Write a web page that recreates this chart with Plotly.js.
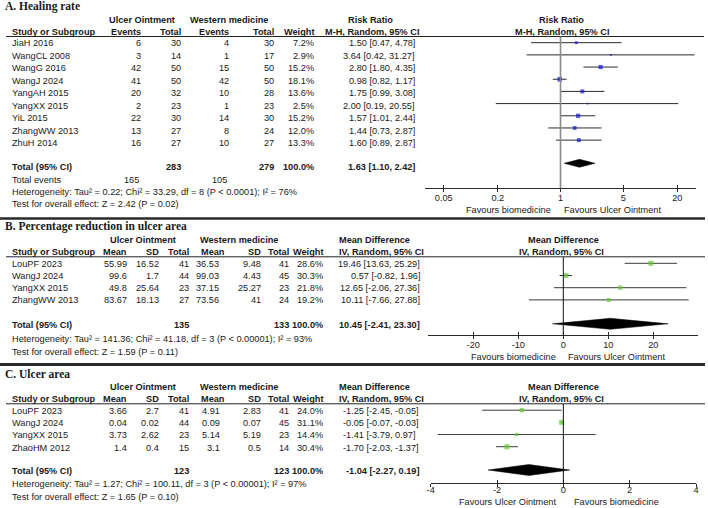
<!DOCTYPE html>
<html>
<head>
<meta charset="utf-8">
<script src="https://cdn.plot.ly/plotly-3.0.1.min.js"></script>
<style>
  html, body { margin: 0; padding: 0; background: #fff; }
  #chart { width: 708px; height: 508px; }
</style>
</head>
<body>
<div id="chart"></div>
<script>
// ---------- A. Healing rate (risk ratio) ----------
const studiesA  = ["JiaH 2016", "WangCL 2008", "WangG 2016", "WangJ 2024", "YangAH 2015",
                   "YangXX 2015", "YiL 2015", "ZhangWW 2013", "ZhuH 2014"];
const eventsUOA = [6, 3, 42, 41, 20, 2, 22, 13, 16];
const totalUOA  = [30, 14, 50, 50, 32, 23, 30, 27, 27];
const eventsWMA = [4, 1, 15, 42, 10, 1, 14, 8, 10];
const totalWMA  = [30, 17, 50, 50, 28, 23, 30, 24, 27];
const weightA   = [7.2, 2.9, 15.2, 18.1, 13.6, 2.5, 15.2, 12.0, 13.3];
const rrA       = [1.50, 3.64, 2.80, 0.98, 1.75, 2.00, 1.57, 1.44, 1.60];
const rrLoA     = [0.47, 0.42, 1.80, 0.82, 0.99, 0.19, 1.01, 0.73, 0.89];
const rrHiA     = [4.78, 31.27, 4.35, 1.17, 3.08, 20.55, 2.44, 2.87, 2.87];
const pooledA   = [1.63, 1.10, 2.42];          // estimate, lower, upper
const sumTotalsA = [283, 279];
const sumEventsA = [165, 105];
const hetA  = "Heterogeneity: Tau² = 0.22; Chi² = 33.29, df = 8 (P &lt; 0.0001); I² = 76%";
const testA = "Test for overall effect: Z = 2.42 (P = 0.02)";
const ticksA = [0.05, 0.2, 1, 5, 20];

// ---------- B. Percentage reduction in ulcer area (mean difference) ----------
const studiesB = ["LouPF 2023", "WangJ 2024", "YangXX 2015", "ZhangWW 2013"];
const meanUOB  = [55.99, 99.6, 49.8, 83.67];
const sdUOB    = [16.52, 1.7, 25.64, 18.13];
const nUOB     = [41, 44, 23, 27];
const meanWMB  = [36.53, 99.03, 37.15, 73.56];
const sdWMB    = [9.48, 4.43, 25.27, 41];
const nWMB     = [41, 45, 23, 24];
const weightB  = [28.6, 30.3, 21.8, 19.2];
const mdB      = [19.46, 0.57, 12.65, 10.11];
const mdLoB    = [13.63, -0.82, -2.06, -7.66];
const mdHiB    = [25.29, 1.96, 27.36, 27.88];
const pooledB  = [10.45, -2.41, 23.30];
const sumTotalsB = [135, 133];
const hetB  = "Heterogeneity: Tau² = 141.36; Chi² = 41.18, df = 3 (P &lt; 0.00001); I² = 93%";
const testB = "Test for overall effect: Z = 1.59 (P = 0.11)";
const ticksB = [-20, -10, 0, 10, 20];

// ---------- C. Ulcer area (mean difference) ----------
const studiesC = ["LouPF 2023", "WangJ 2024", "YangXX 2015", "ZhaoHM 2012"];
const meanUOC  = [3.66, 0.04, 3.73, 1.4];
const sdUOC    = [2.7, 0.02, 2.62, 0.4];
const nUOC     = [41, 44, 23, 15];
const meanWMC  = [4.91, 0.09, 5.14, 3.1];
const sdWMC    = [2.83, 0.07, 5.19, 0.5];
const nWMC     = [41, 45, 23, 14];
const weightC  = [24.0, 31.1, 14.4, 30.4];
const mdC      = [-1.25, -0.05, -1.41, -1.70];
const mdLoC    = [-2.45, -0.07, -3.79, -2.03];
const mdHiC    = [-0.05, -0.03, 0.97, -1.37];
const pooledC  = [-1.04, -2.27, 0.19];
const sumTotalsC = [123, 123];
const hetC  = "Heterogeneity: Tau² = 1.27; Chi² = 100.11, df = 3 (P &lt; 0.00001); I² = 97%";
const testC = "Test for overall effect: Z = 1.65 (P = 0.10)";
const ticksC = [-4, -2, 0, 2, 4];

// ---------- page geometry (pixels) ----------
const W = 708, H = 508;
const TXT = "#1a1a1a";
const SANS = "Liberation Sans, Arial, sans-serif";
const SERIF = "Liberation Serif, Times New Roman, serif";
const FS = 9.2;
const px = v => v / W;           // pixel x -> paper fraction
const py = v => 1 - v / H;       // pixel y -> paper fraction

const annotations = [];
const shapes = [];

function txt(text, x, y, anchor, opts) {
  opts = opts || {};
  annotations.push({
    text: opts.bold ? "<b>" + text + "</b>" : text,
    xref: "paper", x: px(x), xanchor: anchor || "left",
    yref: "y", y: y, yanchor: "middle",
    showarrow: false, borderpad: 0,
    font: { family: opts.family || SANS, size: opts.size || FS, color: opts.color || TXT }
  });
}
function hline(x0, x1, y, width, color) {
  shapes.push({ type: "line", xref: "paper", yref: "y", x0: px(x0), x1: px(x1), y0: y, y1: y,
                line: { color: color, width: width } });
}
const f2 = v => v.toFixed(2);
const ci = (e, lo, hi) => f2(e) + " [" + f2(lo) + ", " + f2(hi) + "]";
const pct = v => v.toFixed(1) + "%";

// ---------- panel A table ----------
txt("A. Healing rate", 4, 6.5, "left", { bold: true, family: SERIF, size: 11.5 });
txt("Ulcer Ointment", 142, 20, "center", { bold: true });
txt("Western medicine", 229, 20, "center", { bold: true });
txt("Risk Ratio", 370, 20, "center", { bold: true });
txt("Risk Ratio", 561, 20, "center", { bold: true });
txt("Study or Subgroup", 11, 32, "left", { bold: true });
txt("Events", 142, 32, "right", { bold: true });
txt("Total", 182, 32, "right", { bold: true });
txt("Events", 230, 32, "right", { bold: true });
txt("Total", 275, 32, "right", { bold: true });
txt("Weight", 315, 32, "right", { bold: true });
txt("M-H, Random, 95% CI", 372, 32, "center", { bold: true });
txt("M-H, Random, 95% CI", 562, 32, "center", { bold: true });
hline(6, 704, 36.5, 1, "#222");

const rowTA = i => 43.3 + 12.5 * i;
const rowMA = i => 42.7 + 12.18 * i;
studiesA.forEach((s, i) => {
  const y = rowTA(i);
  txt(s, 11, y, "left");
  txt(String(eventsUOA[i]), 142, y, "right");
  txt(String(totalUOA[i]), 182, y, "right");
  txt(String(eventsWMA[i]), 230, y, "right");
  txt(String(totalWMA[i]), 275, y, "right");
  txt(pct(weightA[i]), 315, y, "right");
  txt(ci(rrA[i], rrLoA[i], rrHiA[i]), 416, y, "right");
});
txt("Total (95% CI)", 11, 166.5, "left", { bold: true });
txt(String(sumTotalsA[0]), 182, 166.5, "right", { bold: true });
txt(String(sumTotalsA[1]), 275, 166.5, "right", { bold: true });
txt("100.0%", 315, 166.5, "right", { bold: true });
txt(ci(pooledA[0], pooledA[1], pooledA[2]), 416, 166.5, "right", { bold: true });
txt("Total events", 11, 179.5, "left");
txt(String(sumEventsA[0]), 140, 179.5, "right");
txt(String(sumEventsA[1]), 228, 179.5, "right");
txt(hetA, 11, 191.8, "left");
txt(testA, 11, 204, "left");
txt("Favours biomedicine", 552, 210, "right");
txt("Favours Ulcer Ointment", 563, 210, "left");

hline(0, 705, 218.5, 2.5, "#2a2a2a");

// ---------- panels B and C tables ----------
function mdTable(title, titleY, hdrY, studies, m1, s1, n1, m2, s2, n2, wt, est, lo, hi, pooled, totals,
                 rowT, totalY, het, hetY, testTxt, testY, ciAnchor, ciX, wmMeanX) {
  txt(title, 4, titleY, "left", { bold: true, family: SERIF, size: 11.5 });
  txt("Ulcer Ointment", 143, hdrY, "center", { bold: true });
  txt("Western medicine", 239, hdrY, "center", { bold: true });
  txt("Mean Difference", 338, hdrY, "left", { bold: true });
  txt("Mean Difference", 563, hdrY, "center", { bold: true });
  const h2 = hdrY + 12;
  txt("Study or Subgroup", 11, h2, "left", { bold: true });
  txt("Mean", 128, h2, "right", { bold: true });
  txt("SD", 160, h2, "right", { bold: true });
  txt("Total", 190, h2, "right", { bold: true });
  txt("Mean", 200, h2, "left", { bold: true });
  txt("SD", 262, h2, "right", { bold: true });
  txt("Total", 290, h2, "right", { bold: true });
  txt("Weight", 324, h2, "right", { bold: true });
  txt("IV, Random, 95% CI", 338, h2, "left", { bold: true });
  txt("IV, Random, 95% CI", 561, h2, "center", { bold: true });
  hline(6, 705, h2 + 4.8, 1, "#222");
  studies.forEach((s, i) => {
    const y = rowT(i);
    txt(s, 11, y, "left");
    txt(String(m1[i]), 128, y, "right");
    txt(String(s1[i]), 160, y, "right");
    txt(String(n1[i]), 190, y, "right");
    txt(String(m2[i]), wmMeanX, y, "right");
    txt(String(s2[i]), 262, y, "right");
    txt(String(n2[i]), 290, y, "right");
    txt(pct(wt[i]), 324, y, "right");
    txt(ci(est[i], lo[i], hi[i]), ciX, y, ciAnchor);
  });
  txt("Total (95% CI)", 11, totalY, "left", { bold: true });
  txt(String(totals[0]), 190, totalY, "right", { bold: true });
  txt(String(totals[1]), 290, totalY, "right", { bold: true });
  txt("100.0%", 324, totalY, "right", { bold: true });
  txt(ci(pooled[0], pooled[1], pooled[2]), ciAnchor === "left" ? ciX + 3 : ciX, totalY, ciAnchor, { bold: true });
  txt(het, 11, hetY, "left");
  txt(testTxt, 11, testY, "left");
}

const rowTB = i => 263.8 + 12.2 * i;
mdTable("B. Percentage reduction in ulcer area", 226.5, 240, studiesB, meanUOB, sdUOB, nUOB,
        meanWMB, sdWMB, nWMB, weightB, mdB, mdLoB, mdHiB, pooledB, sumTotalsB,
        rowTB, 325, hetB, 339, testB, 352, "right", 421, 220);
txt("Favours biomedicine", 557, 356.7, "right");
txt("Favours Ulcer Ointment", 567, 356.7, "left");

hline(0, 705, 364.5, 3, "#2a2a2a");

const rowTC = i => 411 + 12.2 * i;
mdTable("C. Ulcer area", 373.5, 387, studiesC, meanUOC, sdUOC, nUOC,
        meanWMC, sdWMC, nWMC, weightC, mdC, mdLoC, mdHiC, pooledC, sumTotalsC,
        rowTC, 471, hetC, 484, testC, 496.5, "left", 342, 221);
txt("Favours Ulcer Ointment", 557, 501.5, "right");
txt("Favours biomedicine", 573, 501.5, "left");

// ---------- forest plot traces ----------
function ciSegments(lo, hi, rowY) {
  const x = [], y = [];
  lo.forEach((l, i) => { x.push(l, hi[i], null); y.push(rowY(i), rowY(i), null); });
  return { x, y };
}
function diamond(p, yc, half) {
  return { x: [p[1], p[0], p[2], p[0], p[1]], y: [yc, yc - half, yc, yc + half, yc] };
}

const traces = [];
function forest(xa, est, lo, hi, wt, k, rowY, color, lineColor, pooled, dy, dHalf) {
  const seg = ciSegments(lo, hi, rowY);
  traces.push({ type: "scatter", mode: "lines", xaxis: xa, yaxis: "y", x: seg.x, y: seg.y,
                line: { color: lineColor, width: 1 }, hoverinfo: "skip", showlegend: false });
  traces.push({ type: "scatter", mode: "markers", xaxis: xa, yaxis: "y",
                x: est, y: est.map((_, i) => rowY(i)),
                marker: { symbol: "square", color: color, size: wt.map(w => k * Math.sqrt(w)),
                          line: { width: 0 } },
                hoverinfo: "skip", showlegend: false });
  const d = diamond(pooled, dy, dHalf);
  traces.push({ type: "scatter", mode: "lines", xaxis: xa, yaxis: "y", x: d.x, y: d.y,
                fill: "toself", fillcolor: "#000", line: { color: "#000", width: 0.5 },
                hoverinfo: "skip", showlegend: false });
}

forest("x", rrA, rrLoA, rrHiA, weightA, 1.08, rowMA, "#1414d2", "#2a2a2a", pooledA, 163.3, 4);
forest("x2", mdB, mdLoB, mdHiB, weightB, 0.92, i => 263.3 + 12.2 * i, "#66c533", "#3a3a3a", pooledB, 323.8, 5.5);
forest("x3", mdC, mdLoC, mdHiC, weightC, 0.9, i => 410.2 + 12.17 * i, "#66c533", "#3a3a3a", pooledC, 470, 5.5);

// empty traces so the cross-tick overlay axes get a subplot
["x4", "x5", "x6"].forEach(a => traces.push({ type: "scatter", x: [], y: [], xaxis: a, yaxis: "y",
                                              showlegend: false, hoverinfo: "skip" }));

// null-effect reference lines
shapes.push({ type: "line", xref: "x", yref: "y", x0: 1, x1: 1, y0: 36.5, y1: 188.3,
              line: { color: "#8a8a8a", width: 1.6 } });
shapes.push({ type: "line", xref: "x2", yref: "y", x0: 0, x1: 0, y0: 257, y1: 335,
              line: { color: "#111", width: 1 } });
shapes.push({ type: "line", xref: "x3", yref: "y", x0: 0, x1: 0, y0: 404, y1: 483.3,
              line: { color: "#111", width: 1 } });

function axis(domPx, range, type, tickvals, posY, standoff) {
  return {
    domain: [px(domPx[0]), px(domPx[1])], range: range, type: type,
    anchor: "free", position: py(posY),
    showline: true, linecolor: "#2a2a2a", linewidth: 1,
    ticks: "outside", ticklen: 3, tickcolor: "#2a2a2a", tickwidth: 1,
    ticklabelstandoff: standoff,
    tickvals: tickvals, ticktext: tickvals.map(String),
    tickfont: { family: SANS, size: FS, color: TXT },
    showgrid: false, zeroline: false, fixedrange: true
  };
}
function overlayAxis(base, over) {
  return Object.assign({}, base, { overlaying: over, ticks: "inside", showticklabels: false, showline: false });
}

const xA = axis([425, 696], [-1.51, 1.51], "log", ticksA, 188.3, -2);
const xB = axis([428.3, 698.3], [-30, 30], "linear", ticksB, 335.3, -2);
const xC = axis([430.7, 696], [-4, 4], "linear", ticksC, 483.3, -5);

const layout = {
  width: W, height: H,
  margin: { l: 0, r: 0, t: 0, b: 0, pad: 0 },
  paper_bgcolor: "#fff", plot_bgcolor: "rgba(0,0,0,0)",
  showlegend: false,
  xaxis: xA, xaxis2: xB, xaxis3: xC,
  xaxis4: overlayAxis(xA, "x"), xaxis5: overlayAxis(xB, "x2"), xaxis6: overlayAxis(xC, "x3"),
  yaxis: { domain: [0, 1], range: [H, 0], visible: false, fixedrange: true },
  annotations: annotations,
  shapes: shapes
};

Plotly.newPlot("chart", traces, layout, { displayModeBar: false, staticPlot: true });
</script>
</body>
</html>
